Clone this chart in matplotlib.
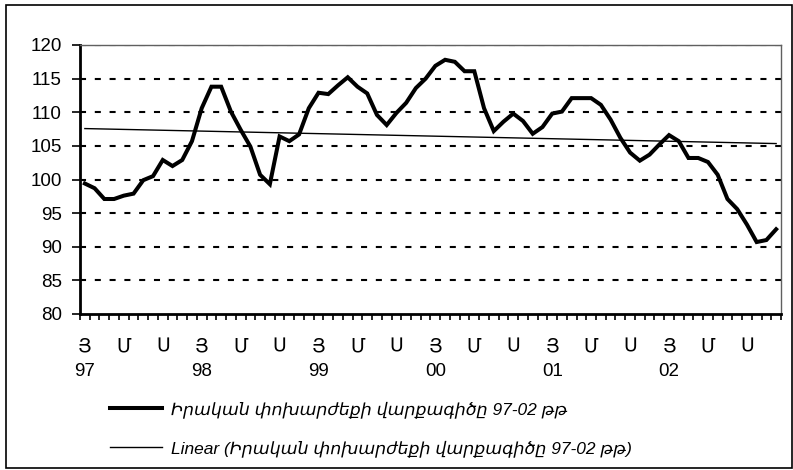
import numpy as np
import matplotlib
matplotlib.use("Agg")
import matplotlib.pyplot as plt
from matplotlib.patches import Rectangle

plt.rcParams['font.family'] = ['Liberation Sans', 'DejaVu Sans']

# ---- data ----
values = [99.4, 98.7, 97.1, 97.1, 97.6, 97.9, 99.9, 100.5, 102.9, 102.0, 102.9, 105.7,
          110.6, 113.8, 113.8, 110.1, 107.4, 104.9, 100.7, 99.3, 106.4, 105.7, 106.7, 110.6,
          112.9, 112.7, 114.0, 115.2, 113.8, 112.8, 109.6, 108.1, 109.9, 111.4, 113.6, 115.0,
          116.9, 117.8, 117.5, 116.1, 116.1, 110.6, 107.2, 108.6, 109.8, 108.7, 106.8, 107.8,
          109.8, 110.1, 112.1, 112.1, 112.1, 111.1, 108.9, 106.2, 104.0, 102.8, 103.7, 105.2,
          106.6, 105.7, 103.2, 103.2, 102.6, 100.7, 97.1, 95.6, 93.3, 90.7, 91.0, 92.6]
month_letters = ['\u0545', '\u0544', '\u054D']   # Յ Մ Ս
years = ['97', '98', '99', '00', '01', '02']
series_label = 'Իրական փոխարժեքի վարքագիծը 97-02 թթ'
trend_label = 'Linear (Իրական փոխարժեքի վարքագիծը 97-02 թթ)'
y_ticks = [80, 85, 90, 95, 100, 105, 110, 115, 120]

x = np.arange(len(values))
coef = np.polyfit(x, values, 1)
trend = np.polyval(coef, x)

fig = plt.figure(figsize=(7.93, 4.70), dpi=100)
ax = fig.add_axes([80/793, 1-314/470, (781-80)/793, (314-45)/470])

for yv in y_ticks[1:]:
    ax.axhline(yv, color='black', lw=1.5, linestyle=(0, (2.9, 4.2)), zorder=1)

l1, = ax.plot(x, values, color='black', lw=2.9, solid_joinstyle='miter', zorder=3)
l2, = ax.plot(x, trend, color='black', lw=1.0, zorder=2)

ax.set_xlim(-0.5, len(values) - 0.5)
ax.set_ylim(80, 120)
ax.set_yticks(y_ticks)
ax.tick_params(axis='y', direction='out', length=6, width=1.2, pad=7, labelsize=13.5)

labels = []
pos = []
for yi, yr in enumerate(years):
    for mi, ml in enumerate(month_letters):
        pos.append(yi*12 + mi*4)
        labels.append(ml + '\n' + yr if mi == 0 else ml)
ax.set_xticks(pos)
ax.set_xticklabels(labels, linespacing=1.6, va='top')
ax.set_xticks(np.arange(-0.5, len(values)), minor=True)
ax.tick_params(axis='x', which='major', length=0, pad=17.5, labelsize=13.5)
ax.tick_params(axis='x', which='minor', direction='out', length=4, width=1.2)

for s in ['left', 'bottom']:
    ax.spines[s].set_linewidth(2)
    ax.spines[s].set_color('black')
for s in ['top', 'right']:
    ax.spines[s].set_linewidth(1)
    ax.spines[s].set_color('#606060')

fig.legend([l1, l2], [series_label, trend_label], loc='upper left',
           bbox_to_anchor=(110/793, 1-401/470), frameon=False,
           prop={'style': 'italic', 'size': 12.5}, handlelength=3.0,
           handletextpad=0.5, labelspacing=1.25, borderpad=0, borderaxespad=0)

fig.patches.append(Rectangle((6/793, 2/470), 786/793, 463/470, transform=fig.transFigure,
                             fill=False, edgecolor='black', lw=1.2))

fig.savefig('out.png', dpi=100)
